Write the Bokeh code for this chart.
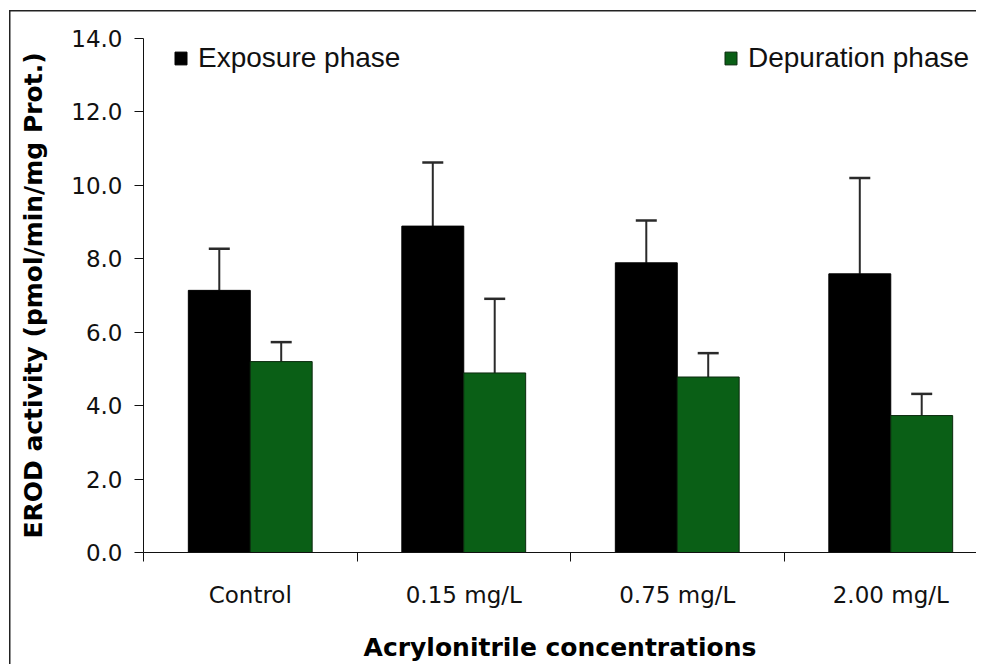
import numpy as np
from bokeh.plotting import figure
from bokeh.models import (FixedTicker, NumeralTickFormatter, Legend, LegendItem,
                          Whisker, ColumnDataSource, Range1d, TeeHead)
from bokeh.embed import file_html
from bokeh.resources import INLINE

# ---- data ----
categories = ["Control", "0.15 mg/L", "0.75 mg/L", "2.00 mg/L"]
exposure = [7.14, 8.89, 7.89, 7.59]
exposure_sd = [1.13, 1.73, 1.15, 2.61]
depuration = [5.20, 4.89, 4.78, 3.73]
depuration_sd = [0.53, 2.02, 0.65, 0.59]
y_ticks = [0, 2, 4, 6, 8, 10, 12, 14]
series_names = ["Exposure phase", "Depuration phase"]

BLACK = "#000000"
GREEN = "#0a5f16"
ERR = "#2a2a2a"
TXT = "#111111"

centers = np.arange(len(categories)) + 0.5
bar_w = 0.29
x_exp = centers - bar_w / 2
x_dep = centers + bar_w / 2

src_exp = ColumnDataSource(dict(x=x_exp, top=exposure,
                                upper=np.array(exposure) + np.array(exposure_sd)))
src_dep = ColumnDataSource(dict(x=x_dep, top=depuration,
                                upper=np.array(depuration) + np.array(depuration_sd)))

W, H = 976, 664
LEFT, TOP, BOTTOM = 143, 38, 112
frame_w = W - LEFT
frame_h = H - TOP - BOTTOM
x_end = frame_w / 213.5

p = figure(width=W, height=H, x_range=Range1d(0, x_end), y_range=Range1d(0, 14),
           output_backend="svg", toolbar_location=None,
           min_border_left=LEFT, min_border_right=0, min_border_top=TOP,
           min_border_bottom=BOTTOM)

p.xgrid.visible = False
p.ygrid.visible = False
p.outline_line_color = None
p.border_fill_alpha = 0
p.background_fill_color = "white"
p.styles = {"box-shadow": "inset 9px 10px 0 0 white, inset 10.5px 11.5px 0 0 #222"}

r_exp = p.vbar(x="x", top="top", width=bar_w, source=src_exp,
               fill_color=BLACK, line_color=BLACK, line_width=1)
r_dep = p.vbar(x="x", top="top", width=bar_w, source=src_dep,
               fill_color=GREEN, line_color="#0b2a0e", line_width=1)

for src in (src_exp, src_dep):
    w = Whisker(source=src, base="x", lower="top", upper="upper",
                line_color=ERR, line_width=2,
                upper_head=TeeHead(size=21, line_color=ERR, line_width=2.5),
                lower_head=None)
    p.add_layout(w)

# y axis
ya = p.yaxis[0]
ya.ticker = FixedTicker(ticks=y_ticks)
ya.formatter = NumeralTickFormatter(format="0.0")
ya.axis_label = "EROD activity (pmol/min/mg Prot.)"
ya.axis_label_text_font = "DejaVu Sans"
ya.axis_label_text_font_style = "bold"
ya.axis_label_text_font_size = "25px"
ya.axis_label_text_color = BLACK
ya.axis_label_standoff = 20
ya.major_label_text_font = "DejaVu Sans"
ya.major_label_text_font_size = "23px"
ya.major_label_text_color = TXT
ya.major_label_standoff = 12
ya.major_tick_out = 9
ya.major_tick_in = 0
ya.minor_tick_out = 0
ya.minor_tick_in = 0
ya.axis_line_color = TXT
ya.major_tick_line_color = TXT

# x axis
xa = p.xaxis[0]
xa.ticker = FixedTicker(ticks=list(centers), minor_ticks=list(range(len(categories) + 1)))
xa.major_label_overrides = {float(c): name for c, name in zip(centers, categories)}
xa.major_tick_out = 0
xa.major_tick_in = 0
xa.minor_tick_out = 9
xa.minor_tick_in = 0
xa.minor_tick_line_color = TXT
xa.axis_line_color = TXT
xa.major_label_text_font = "DejaVu Sans"
xa.major_label_text_font_size = "23px"
xa.major_label_text_color = TXT
xa.major_label_standoff = 20
xa.axis_label = "Acrylonitrile concentrations"
xa.axis_label_text_font = "DejaVu Sans"
xa.axis_label_text_font_style = "bold"
xa.axis_label_text_font_size = "25px"
xa.axis_label_text_color = BLACK
xa.axis_label_standoff = 22

# legends
for rend, name, xpos in ((r_exp, series_names[0], 30),
                         (r_dep, series_names[1], 580)):
    leg = Legend(items=[LegendItem(label=name, renderers=[rend])],
                 location=(xpos, frame_h - 36),
                 margin=0, padding=0, label_standoff=10,
                 glyph_width=15, glyph_height=16,
                 label_text_font="Liberation Sans", label_text_font_size="28px",
                 label_text_color=TXT,
                 border_line_alpha=0, background_fill_alpha=0)
    p.add_layout(leg)

open("out.html", "w").write(file_html(p, INLINE))
